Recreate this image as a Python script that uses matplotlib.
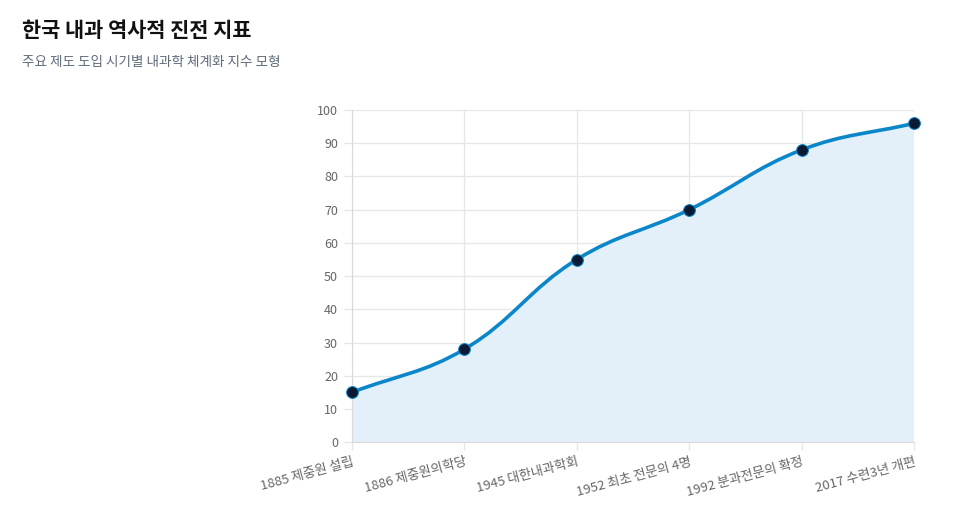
import matplotlib.pyplot as plt
import numpy as np
from matplotlib.path import Path
from matplotlib.patches import PathPatch

plt.rcParams['font.family'] = ['Noto Sans CJK KR', 'DejaVu Sans']

labels = ["1885 제중원 설립", "1886 제중원의학당", "1945 대한내과학회",
          "1952 최초 전문의 4명", "1992 분과전문의 확정", "2017 수련3년 개편"]
values = [15, 28, 55, 70, 88, 96]

title = "한국 내과 역사적 진전 지표"
subtitle = "주요 제도 도입 시기별 내과학 체계화 지수 모형"

LINE = "#0b87c9"
FILL = "#e3f0f9"
DOT = "#0b1a33"
GRID = "#e6e6e6"
TXT = "#666666"


def spline_path(ax, xs, ys, tension=0.4):
    # chart.js style bezier control points, computed in pixel space
    pts = ax.transData.transform(np.column_stack([xs, ys]))
    n = len(pts)
    verts = [pts[0]]
    codes = [Path.MOVETO]
    ctrl = []
    for i in range(n):
        p0 = pts[max(i - 1, 0)]
        p1 = pts[i]
        p2 = pts[min(i + 1, n - 1)]
        d01 = np.hypot(*(p1 - p0))
        d12 = np.hypot(*(p2 - p1))
        tot = d01 + d12
        s01 = d01 / tot if tot else 0
        s12 = d12 / tot if tot else 0
        prev = p1 - tension * s01 * (p2 - p0)
        nxt = p1 + tension * s12 * (p2 - p0)
        ctrl.append((prev, nxt))
    for i in range(1, n):
        verts += [ctrl[i - 1][1], ctrl[i][0], pts[i]]
        codes += [Path.CURVE4] * 3
    inv = ax.transData.inverted()
    return inv.transform(np.array(verts)), codes


fig = plt.figure(figsize=(9.75, 5.19), dpi=100)
ax = fig.add_axes([0.361, 0.148, 0.5765, 0.64])

x = np.arange(len(labels))
ax.set_xlim(0, len(labels) - 1)
ax.set_ylim(0, 100)

verts, codes = spline_path(ax, x, values)
line_path = Path(verts, codes)
fill_verts = np.vstack([verts, [[x[-1], 0], [x[0], 0], verts[0]]])
fill_codes = codes + [Path.LINETO, Path.LINETO, Path.CLOSEPOLY]
ax.add_patch(PathPatch(Path(fill_verts, fill_codes), facecolor=FILL,
                       edgecolor="none", zorder=1))
ax.add_patch(PathPatch(line_path, facecolor="none", edgecolor=LINE,
                       linewidth=2.6, zorder=3, clip_on=False))
ax.plot(x, values, "o", color=DOT, markersize=8.5, markeredgecolor=LINE,
        markeredgewidth=0.7, zorder=4, clip_on=False)

ax.set_yticks(np.arange(0, 101, 10))
ax.set_xticks(x)
ax.set_xticklabels(labels, rotation=15, ha="right", rotation_mode="anchor")
ax.grid(True, color=GRID, linewidth=0.9, zorder=0)
ax.set_axisbelow(True)
for s in ax.spines.values():
    s.set_visible(False)
ax.spines["left"].set_visible(True)
ax.spines["left"].set_color("#d9d9d9")
ax.spines["bottom"].set_visible(True)
ax.spines["bottom"].set_color("#d9d9d9")
ax.tick_params(axis="both", colors=GRID, labelcolor=TXT, length=6, width=0.9)
ax.tick_params(axis="x", labelsize=9.5)
ax.tick_params(axis="y", labelsize=9, pad=4)

fig.text(0.0226, 0.942, title, fontsize=15, fontweight="bold", color="#111111",
         va="center")
fig.text(0.0226, 0.88, subtitle, fontsize=9.8, color="#5f6b7a", va="center")

fig.savefig("out.png", dpi=100)
